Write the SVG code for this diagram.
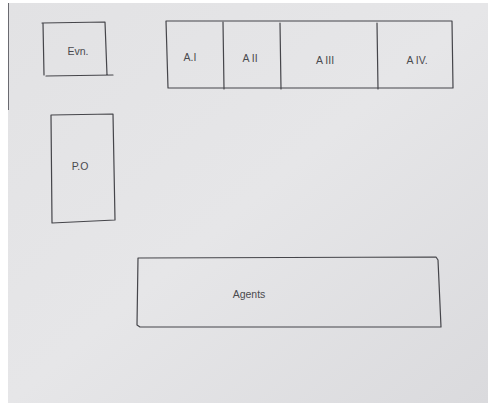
<svg xmlns="http://www.w3.org/2000/svg" width="488" height="405" viewBox="0 0 488 405">
<defs>
<linearGradient id="paper" x1="0" y1="0" x2="1" y2="1">
<stop offset="0" stop-color="#e2e2e4"/>
<stop offset="0.5" stop-color="#e6e6e8"/>
<stop offset="1" stop-color="#dadadd"/>
</linearGradient>
</defs>
<style>
.box{fill:none;stroke:#45454a;stroke-width:1.2;stroke-linejoin:round;stroke-linecap:round}
.lbl{font-family:"Liberation Sans",Arial,sans-serif;font-size:10.5px;fill:#4a4a4e;text-anchor:middle;dominant-baseline:middle}
</style>
<rect x="0" y="0" width="488" height="405" fill="#ffffff"/>
<rect x="8" y="3" width="480" height="400" fill="url(#paper)"/>
<line x1="8.5" y1="3" x2="8.5" y2="110" stroke="#6a6a70" stroke-width="1"/>
<g id="evn">
<path class="box" d="M42,23 L105,22 L107,75 M43,23 L44,75 M46,76 L113,75"/>
<text class="lbl" x="78" y="52">Evn.</text>
</g>
<g id="a-row">
<path class="box" d="M166,21 L452,21 L453,88 L168,88 Z"/>
<path class="box" d="M223,22 L224,89 M280,23 L281,89 M377,23 L378,89"/>
<text class="lbl" x="190" y="58">A.I</text>
<text class="lbl" x="250" y="59">A II</text>
<text class="lbl" x="325" y="61">A III</text>
<text class="lbl" x="417" y="61">A IV.</text>
</g>
<g id="po">
<path class="box" d="M51,115 L113,114 L115,220 L52,223 Z"/>
<text class="lbl" x="80" y="167">P.O</text>
</g>
<g id="agents">
<path class="box" d="M138,258 L436,257 L438,260 L441,327 L140,327 L137,325 Z"/>
<text class="lbl" x="249" y="295">Agents</text>
</g>
<g id="connectors"></g>
</svg>
